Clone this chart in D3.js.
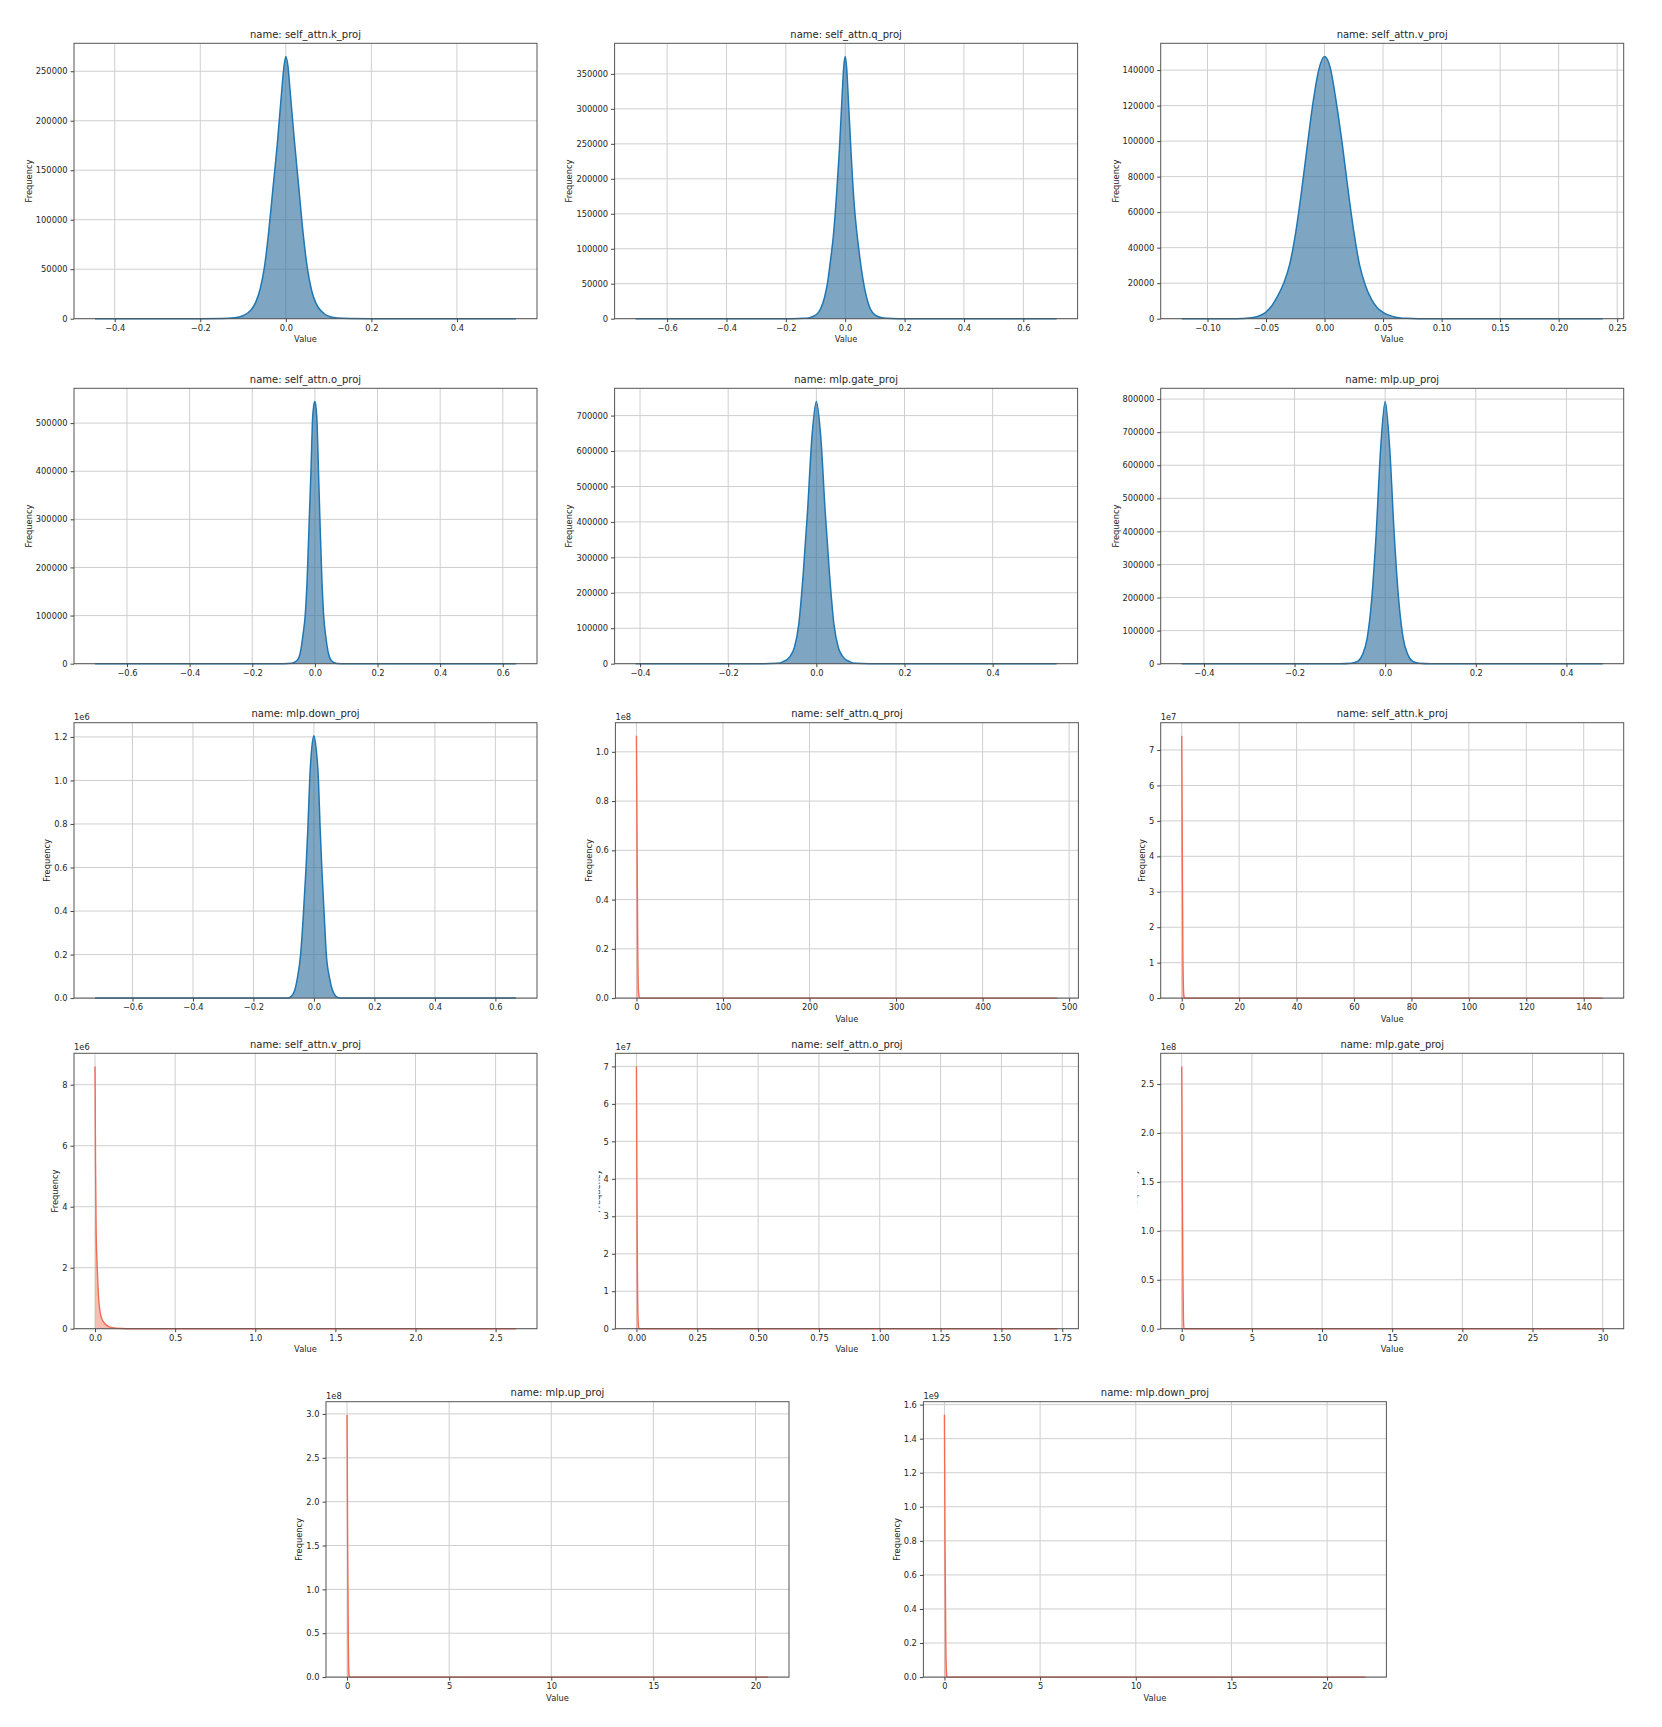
<!DOCTYPE html>
<html><head><meta charset="utf-8">
<script src="https://cdn.jsdelivr.net/npm/d3@7"></script>
<style>
body{margin:0;background:#fff}
text{font-family:"DejaVu Sans",sans-serif;fill:#262626}
</style>
</head><body>
<svg id="c" width="1662" height="1727"></svg>
<script>
// ---------- DATA ----------
// panel titles
const titles = ["name: self_attn.k_proj","name: self_attn.q_proj","name: self_attn.v_proj",
  "name: self_attn.o_proj","name: mlp.gate_proj","name: mlp.up_proj",
  "name: mlp.down_proj","name: self_attn.q_proj","name: self_attn.k_proj",
  "name: self_attn.v_proj","name: self_attn.o_proj","name: mlp.gate_proj",
  "name: mlp.up_proj","name: mlp.down_proj"];

// blue panels: value / frequency of the density curve
const kProjVals = [-0.446,-0.2,-0.15,-0.12,-0.10,-0.09,-0.08,-0.07,-0.06,-0.05,-0.04,-0.03,-0.02,-0.01,-0.005,0,0.005,0.01,0.02,0.03,0.04,0.05,0.06,0.07,0.08,0.09,0.10,0.12,0.15,0.2,0.538];
const kProjFreq = [0,0,200,900,3000,5500,9500,17000,30000,52000,88000,132000,176000,228000,252000,265000,255000,230000,180000,134000,88000,52000,29000,16000,9000,5000,2500,800,200,0,0];

const qProjVals = [-0.706,-0.25,-0.18,-0.14,-0.12,-0.10,-0.09,-0.08,-0.07,-0.06,-0.05,-0.04,-0.03,-0.02,-0.01,-0.005,0,0.005,0.01,0.02,0.03,0.04,0.05,0.06,0.07,0.08,0.09,0.10,0.12,0.14,0.18,0.25,0.712];
const qProjFreq = [0,0,100,500,1500,5000,9000,17000,30000,50000,82000,118000,172000,238000,322000,360000,375000,358000,318000,235000,165000,120000,85000,56000,34000,19000,10000,5500,1700,500,100,0,0];

const vProjVals = [-0.122,-0.08,-0.07,-0.065,-0.06,-0.055,-0.05,-0.045,-0.04,-0.035,-0.03,-0.025,-0.02,-0.015,-0.01,-0.005,0,0.005,0.01,0.015,0.02,0.025,0.03,0.035,0.04,0.045,0.05,0.055,0.06,0.065,0.07,0.08,0.2376];
const vProjFreq = [0,0,150,350,800,1800,3800,7300,12800,19800,30000,47000,70000,96000,121000,140000,147700,141000,122000,99000,73000,49000,30000,18500,11000,6200,3600,2000,1000,450,200,0,0];

const oProjVals = [-0.702,-0.1,-0.075,-0.065,-0.053,-0.045,-0.038,-0.031,-0.025,-0.018,-0.012,-0.008,-0.004,0,0.004,0.007,0.011,0.016,0.022,0.028,0.035,0.042,0.049,0.06,0.07,0.1,0.642];
const oProjFreq = [0,0,800,3000,10000,28000,60000,100000,170000,300000,410000,500000,535000,545000,530000,500000,410000,300000,180000,100000,55000,25000,10000,2500,600,0,0];

const gateVals = [-0.41,-0.12,-0.09,-0.075,-0.06,-0.05,-0.04,-0.03,-0.02,-0.01,0,0.01,0.02,0.03,0.04,0.05,0.06,0.075,0.09,0.12,0.545];
const gateFreq = [0,0,1000,6000,20000,45000,110000,250000,430000,640000,740000,640000,430000,250000,110000,45000,20000,6000,1000,0,0];

const upVals = [-0.449,-0.1,-0.075,-0.06,-0.05,-0.04,-0.03,-0.02,-0.01,0,0.01,0.02,0.03,0.04,0.05,0.06,0.075,0.1,0.48];
const upFreq = [0,0,1500,8000,28000,75000,190000,390000,650000,793000,650000,390000,190000,75000,28000,8000,1500,0,0];

const downVals = [-0.7237,-0.12,-0.085,-0.075,-0.065,-0.055,-0.044,-0.035,-0.026,-0.02,-0.014,-0.007,0,0.007,0.015,0.02,0.026,0.034,0.041,0.052,0.063,0.073,0.085,0.12,0.668];
const downFreq = [0,0,1000,8000,30000,90000,200000,380000,600000,780000,1000000,1150000,1205000,1150000,1000000,800000,600000,380000,200000,90000,30000,8000,1000,0,0];

// red panels (absolute values)
const qRVals = [0,0.8,1.5,2.5,4,486.4];
const qRFreq = [1.065e8,6e7,2e7,2e6,0,0];
const kRVals = [0,0.2,0.4,0.7,1,146.6];
const kRFreq = [7.4e7,4e7,1.2e7,1e6,0,0];
const vRVals = [0,0.003,0.0067,0.013,0.022,0.038,0.06,0.09,0.13,0.2,2.627];
const vRFreq = [8.6e6,5.4e6,3.2e6,2.1e6,1.05e6,3.9e5,1.7e5,6e4,1.5e4,0,0];
const oRVals = [0,0.002,0.004,0.007,0.01,1.73];
const oRFreq = [7.0e7,4e7,1.5e7,2e6,0,0];
const gateRVals = [0,0.04,0.08,0.12,0.16,30.0];
const gateRFreq = [2.68e8,1.5e8,6e7,1e7,0,0];
const upRVals = [0,0.03,0.06,0.09,0.12,20.61];
const upRFreq = [2.99e8,1.5e8,5e7,5e6,0,0];
const downRVals = [0,0.03,0.07,0.11,0.14,22.0];
const downRFreq = [1.54e9,8e8,2e8,2e7,0,0];

// tick values
const xTicks = [
  [-0.4,-0.2,0,0.2,0.4],
  [-0.6,-0.4,-0.2,0,0.2,0.4,0.6],
  [-0.10,-0.05,0,0.05,0.10,0.15,0.20,0.25],
  [-0.6,-0.4,-0.2,0,0.2,0.4,0.6],
  [-0.4,-0.2,0,0.2,0.4],
  [-0.4,-0.2,0,0.2,0.4],
  [-0.6,-0.4,-0.2,0,0.2,0.4,0.6],
  [0,100,200,300,400,500],
  [0,20,40,60,80,100,120,140],
  [0,0.5,1.0,1.5,2.0,2.5],
  [0,0.25,0.5,0.75,1.0,1.25,1.5,1.75],
  [0,5,10,15,20,25,30],
  [0,5,10,15,20],
  [0,5,10,15,20]
];
const xDecimals = [1,1,2,1,1,1,1,0,0,1,2,0,0,0];
const yTicks = [
  [0,50000,100000,150000,200000,250000],
  [0,50000,100000,150000,200000,250000,300000,350000],
  [0,20000,40000,60000,80000,100000,120000,140000],
  [0,100000,200000,300000,400000,500000],
  [0,100000,200000,300000,400000,500000,600000,700000],
  [0,100000,200000,300000,400000,500000,600000,700000,800000],
  [0,2e5,4e5,6e5,8e5,1e6,1.2e6],
  [0,2e7,4e7,6e7,8e7,1e8],
  [0,1e7,2e7,3e7,4e7,5e7,6e7,7e7],
  [0,2e6,4e6,6e6,8e6],
  [0,1e7,2e7,3e7,4e7,5e7,6e7,7e7],
  [0,5e7,1e8,1.5e8,2e8,2.5e8],
  [0,5e7,1e8,1.5e8,2e8,2.5e8,3e8],
  [0,2e8,4e8,6e8,8e8,1e9,1.2e9,1.4e9,1.6e9]
];
const yExponent = [0,0,0,0,0,0,6,8,7,6,7,8,8,9];
const yDecimals = [0,0,0,0,0,0,1,1,0,0,0,1,1,1];

const seriesVals = [kProjVals,qProjVals,vProjVals,oProjVals,gateVals,upVals,downVals,qRVals,kRVals,vRVals,oRVals,gateRVals,upRVals,downRVals];
const seriesFreq = [kProjFreq,qProjFreq,vProjFreq,oProjFreq,gateFreq,upFreq,downFreq,qRFreq,kRFreq,vRFreq,oRFreq,gateRFreq,upRFreq,downRFreq];

// ---------- LAYOUT / STYLE ----------
const panelPos = [[74,43.3],[614.6,43.3],[1160.7,43.3],
  [74,388.3],[614.6,388.3],[1160.7,388.3],
  [74,722.7],[615.4,722.7],[1160.7,722.7],
  [74,1053.3],[615.4,1053.3],[1160.7,1053.3],
  [326,1401.7],[923.4,1401.7]];
const PW = 463, PH = 275.4;
const showXLabel = [true,true,true,false,false,false,false,true,true,true,true,true,true,true];
const yLabelClip = [null,null,null,null,null,null,null,null,null,null,-1.0,0.2,null,null];
const TICK_FS = 8.3;

const svg = d3.select("#c");
const defs = svg.append("defs");

panelPos.forEach((pos, i) => {
  const L = pos[0], T = pos[1], R = L + PW, B = T + PH;
  const vals = seriesVals[i], freq = seriesFreq[i];
  const data = vals.map((v, k) => [v, freq[k]]);
  const red = i >= 7;
  const xmin = d3.min(vals), xmax = d3.max(vals), span = xmax - xmin;
  const x = d3.scaleLinear().domain([xmin - 0.05 * span, xmax + 0.05 * span]).range([L, R]);
  const y = d3.scaleLinear().domain([0, d3.max(freq) * 1.05]).range([B, T]);
  const g = svg.append("g");

  // grid
  g.append("g").selectAll("line").data(xTicks[i]).join("line")
    .attr("x1", d => x(d)).attr("x2", d => x(d)).attr("y1", T).attr("y2", B)
    .attr("stroke", "#cfcfcf").attr("stroke-width", 1);
  g.append("g").selectAll("line").data(yTicks[i]).join("line")
    .attr("x1", L).attr("x2", R).attr("y1", d => y(d)).attr("y2", d => y(d))
    .attr("stroke", "#cfcfcf").attr("stroke-width", 1);

  // histogram fill + density line
  const area = d3.area().x(d => x(d[0])).y0(y(0)).y1(d => y(d[1])).curve(d3.curveMonotoneX);
  const line = d3.line().x(d => x(d[0])).y(d => y(d[1])).curve(d3.curveMonotoneX);
  g.append("path").datum(data).attr("d", area)
    .attr("fill", red ? "#f08a76" : "#2f6f9e").attr("fill-opacity", red ? 0.55 : 0.62)
    .attr("stroke", "none");
  g.append("path").datum(data).attr("d", line)
    .attr("fill", "none").attr("stroke", red ? "#f26b52" : "#1f77b4")
    .attr("stroke-width", red ? 1.4 : 1.5).attr("stroke-linejoin", "round");

  // frame
  g.append("rect").attr("x", L).attr("y", T).attr("width", PW).attr("height", PH)
    .attr("fill", "none").attr("stroke", "#555").attr("stroke-width", 1);

  // axes
  const xf = d => d.toFixed(xDecimals[i]).replace("-", "\u2212");
  const ex = yExponent[i];
  const yf = d => ex === 0 ? d3.format("d")(d) : (d / Math.pow(10, ex)).toFixed(yDecimals[i]);
  const xa = g.append("g").attr("transform", `translate(0,${B})`)
    .call(d3.axisBottom(x).tickValues(xTicks[i]).tickFormat(xf).tickSizeInner(3.5).tickSizeOuter(0).tickPadding(3));
  const ya = g.append("g").attr("transform", `translate(${L},0)`)
    .call(d3.axisLeft(y).tickValues(yTicks[i]).tickFormat(yf).tickSizeInner(3.5).tickSizeOuter(0).tickPadding(3));
  [xa, ya].forEach(a => {
    a.select(".domain").remove();
    a.selectAll(".tick line").attr("stroke", "#444");
    a.selectAll(".tick text").attr("font-size", TICK_FS).attr("font-family", "DejaVu Sans").attr("fill", "#262626");
  });

  // title
  g.append("text").attr("x", (L + R) / 2).attr("y", T - 5.5).attr("text-anchor", "middle")
    .attr("font-size", 10).text(titles[i]);

  // exponent
  if (ex !== 0) {
    g.append("text").attr("x", L).attr("y", T - 3).attr("font-size", TICK_FS).text("1e" + ex);
  }

  // x label
  if (showXLabel[i]) {
    g.append("text").attr("x", (L + R) / 2).attr("y", B + 23.6).attr("text-anchor", "middle")
      .attr("font-size", TICK_FS).text("Value");
  }

  // y label (bbox of the y axis is in its local frame: add L)
  const bb = ya.node().getBBox();
  const bx = L + bb.x - 4;
  const yl = g.append("text").attr("transform", `translate(${bx},${(T + B) / 2}) rotate(-90)`)
    .attr("text-anchor", "middle").attr("font-size", TICK_FS).text("Frequency");
  if (yLabelClip[i] !== null) {
    const id = "clipyl" + i;
    defs.append("clipPath").attr("id", id).append("rect")
      .attr("x", bx + yLabelClip[i]).attr("y", T).attr("width", 20).attr("height", PH);
    const wrap = g.append("g").attr("clip-path", `url(#${id})`);
    wrap.node().appendChild(yl.node());
  }
});
</script>
</body></html>
